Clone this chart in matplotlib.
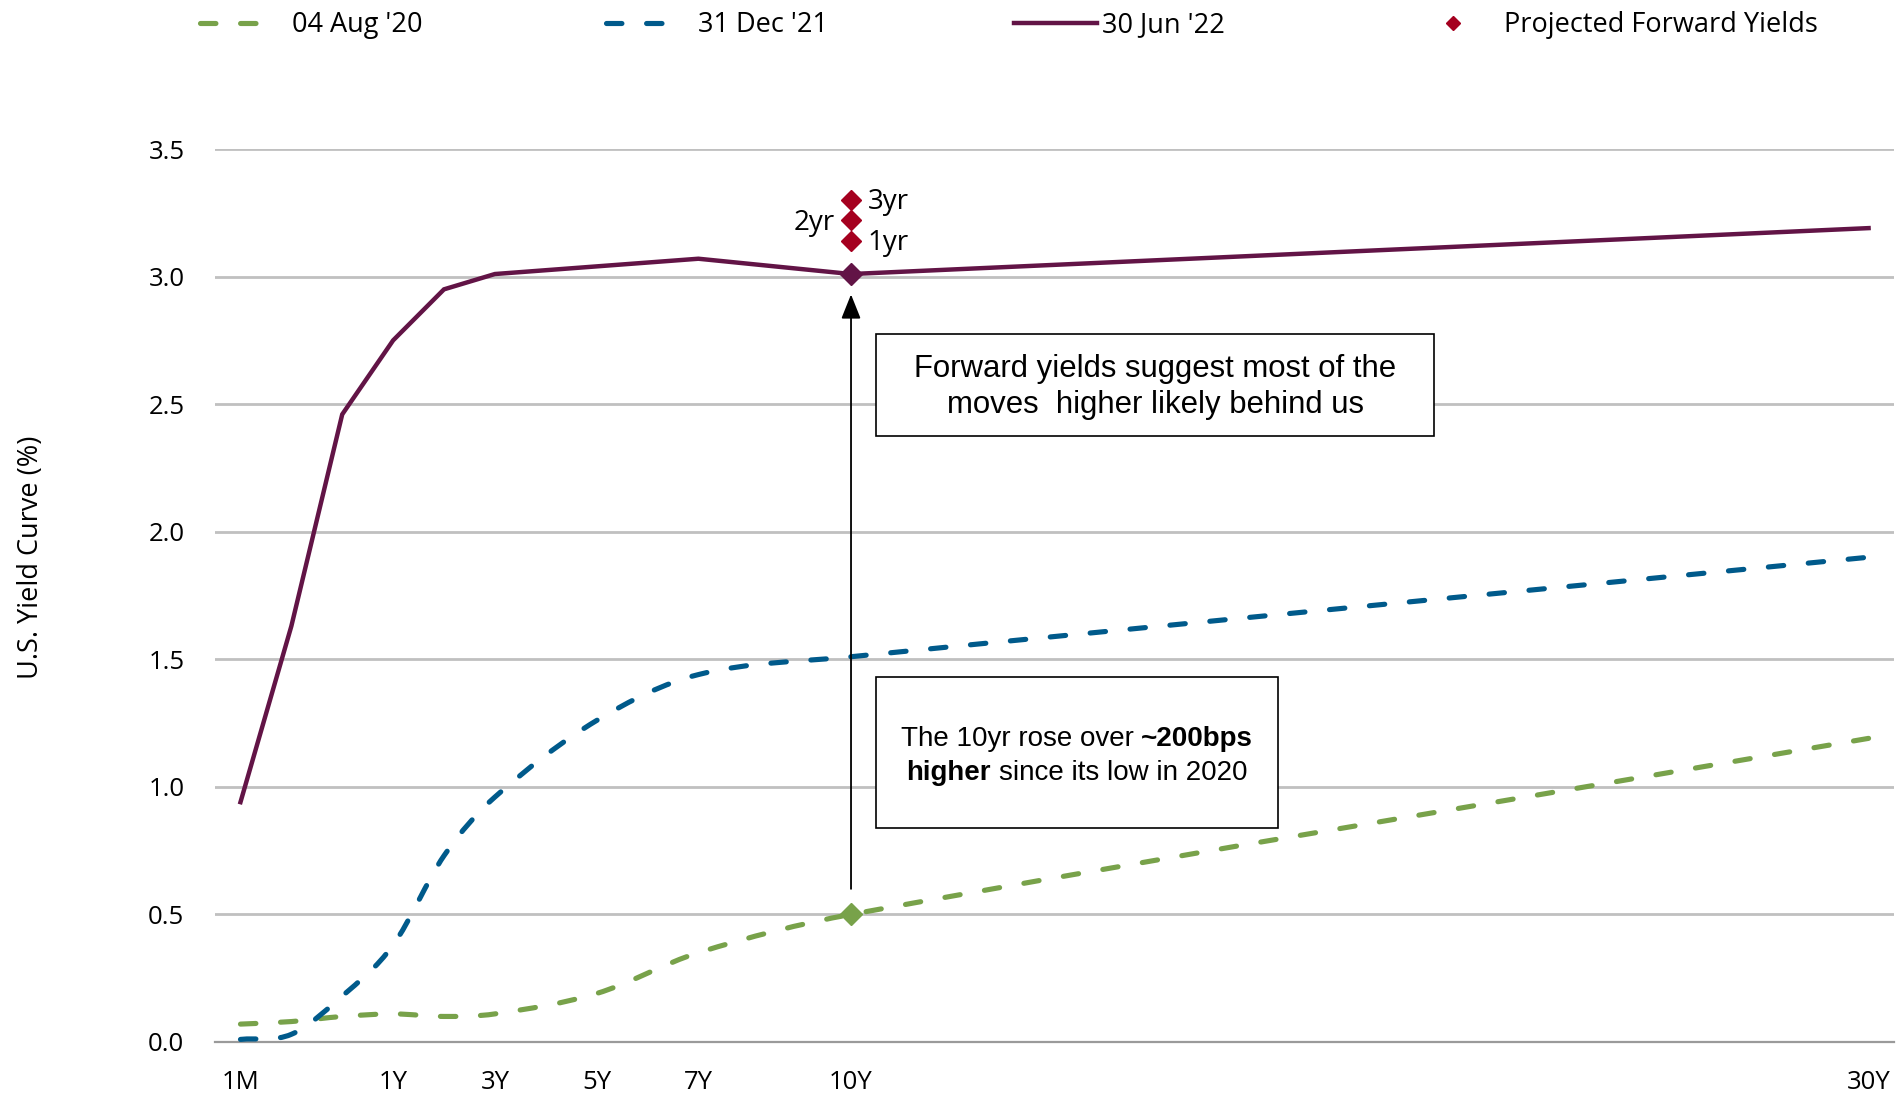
import numpy as np
import matplotlib
matplotlib.use("Agg")
import matplotlib.pyplot as plt
import matplotlib.transforms as mtransforms
from matplotlib.path import Path
from matplotlib.patches import PathPatch, Rectangle
from matplotlib.lines import Line2D

# ---- data -------------------------------------------------------------
tenors = ['1M', '3M', '6M', '1Y', '2Y', '3Y', '5Y', '7Y', '10Y', '30Y']
tenor_years = [1 / 12, 0.25, 0.5, 1, 2, 3, 5, 7, 10, 30]
labelled_tenors = ['1M', '1Y', '3Y', '5Y', '7Y', '10Y', '30Y']

yields_aug20 = [0.07, 0.08, 0.10, 0.11, 0.10, 0.11, 0.19, 0.35, 0.50, 1.19]
yields_dec21 = [0.01, 0.03, 0.18, 0.38, 0.73, 0.96, 1.26, 1.44, 1.51, 1.90]
yields_jun22 = [0.94, 1.63, 2.46, 2.75, 2.95, 3.01, 3.04, 3.07, 3.01, 3.19]

forward_labels = ['1yr', '2yr', '3yr']
forward_10y = [3.14, 3.22, 3.30]

series_names = ["04 Aug '20", "31 Dec '21", "30 Jun '22", "Projected Forward Yields"]

# ---- style ------------------------------------------------------------
GREEN = '#78A24A'
BLUE = '#005A8B'
PURPLE = '#621446'
RED = '#A5001F'
GRID = '#C0C0C0'
UI_FONT = 'Open Sans'
BOX_FONT = 'Liberation Sans'
DASH = (0, (3.0, 4.8))
DASH_LW = 3.7

plt.rcParams['font.family'] = [UI_FONT, 'DejaVu Sans']


def tenor_axis(years):
    """Map tenor in years onto the chart's horizontal axis (sub-year tenors evenly spaced)."""
    return np.interp(years, [0, 1 / 12, 0.25, 0.5, 1, 30], [-0.5, 0, 1, 2, 3, 32])


def smooth_path(x, y):
    """Cubic Hermite curve through the points, as a Bezier path."""
    x = np.asarray(x, float)
    y = np.asarray(y, float)
    n = len(x)
    m = np.empty(n)
    m[0] = (y[1] - y[0]) / (x[1] - x[0])
    m[-1] = (y[-1] - y[-2]) / (x[-1] - x[-2])
    for i in range(1, n - 1):
        m[i] = (y[i + 1] - y[i - 1]) / (x[i + 1] - x[i - 1])
    verts = [(x[0], y[0])]
    codes = [Path.MOVETO]
    for i in range(n - 1):
        h = x[i + 1] - x[i]
        verts += [(x[i] + h / 3, y[i] + m[i] * h / 3),
                  (x[i + 1] - h / 3, y[i + 1] - m[i + 1] * h / 3),
                  (x[i + 1], y[i + 1])]
        codes += [Path.CURVE4] * 3
    return Path(verts, codes)


fig = plt.figure(figsize=(18.98, 10.99), dpi=100)
ax = fig.add_axes([0.1133, 0.0519, 0.8846, 0.8125])

xpos = tenor_axis(tenor_years)
x10 = tenor_axis(10)

# gridlines and axes
ax.set_ylim(0, 3.5)
ax.set_xlim(-0.5, 32.5)
ax.set_yticks(np.arange(0, 3.51, 0.5))
ax.yaxis.set_major_formatter(plt.FormatStrFormatter('%.1f'))
ax.grid(axis='y', color=GRID, lw=2.0, zorder=0)
ax.set_axisbelow(True)
for s in ['top', 'right', 'left']:
    ax.spines[s].set_visible(False)
ax.spines['bottom'].set_color('#9A9A9A')
ax.spines['bottom'].set_linewidth(1.6)
ax.spines['bottom'].set_zorder(1)

tick_pos = [tenor_axis(tenor_years[tenors.index(t)]) for t in labelled_tenors]
ax.set_xticks(tick_pos)
ax.set_xticklabels(labelled_tenors)
ax.tick_params(axis='both', length=0, labelsize=18.5, colors='black')
ax.tick_params(axis='y', pad=22)
ax.tick_params(axis='x', pad=20)

ax.set_ylabel('U.S. Yield Curve (%)', fontsize=19.5)
ax.yaxis.set_label_coords(-0.101, 0.543)

# smoothed dashed curves
for vals, col in [(yields_aug20, GREEN), (yields_dec21, BLUE)]:
    patch = PathPatch(smooth_path(xpos, vals), fill=False, edgecolor=col, lw=DASH_LW,
                      linestyle=DASH, capstyle='round', joinstyle='round', zorder=3)
    ax.add_patch(patch)

# solid latest curve
ax.plot(xpos, yields_jun22, color=PURPLE, lw=3.2, solid_joinstyle='miter', zorder=4)

# 10Y highlights
i10 = tenors.index('10Y')
ax.plot([x10], [yields_aug20[i10]], marker='D', ms=11, color=GREEN, ls='none', zorder=6)
ax.plot([x10], [yields_jun22[i10]], marker='D', ms=11.5, color=PURPLE, ls='none', zorder=6)
ax.plot([x10] * len(forward_10y), forward_10y, marker='D', ms=10.5, color=RED,
        ls='none', zorder=6)

fw_offsets = {'1yr': (12, 'left'), '2yr': (-12, 'right'), '3yr': (12, 'left')}
for lab, val in zip(forward_labels, forward_10y):
    dx, ha = fw_offsets[lab]
    ax.annotate(lab, xy=(x10, val), xytext=(dx, -1.5), textcoords='offset points',
                ha=ha, va='center', fontsize=20, zorder=7)

# arrow from the 2020 low to the current 10Y level
ax.annotate('', xy=(x10, 2.93), xytext=(x10, 0.60),
            arrowprops=dict(arrowstyle='-|>,head_length=0.75,head_width=0.3',
                            color='black', lw=1.3, shrinkA=0, shrinkB=0,
                            mutation_scale=20), zorder=5)

# callout boxes
box1 = (0.3937, 0.6786, 0.7260 - 0.3937, 0.7928 - 0.6786)
box2 = (0.3937, 0.2396, 0.6330 - 0.3937, 0.4091 - 0.2396)
for bx in (box1, box2):
    ax.add_patch(Rectangle(bx[:2], bx[2], bx[3], transform=ax.transAxes,
                           facecolor='white', edgecolor='black', lw=1.2, zorder=5))

cx1 = box1[0] + box1[2] / 2
cy1 = box1[1] + box1[3] / 2
ax.text(cx1, cy1 - 0.002, 'Forward yields suggest most of the\nmoves  higher likely behind us',
        transform=ax.transAxes, ha='center', va='center', family=BOX_FONT,
        fontsize=22.4, linespacing=1.25, zorder=6)

renderer = fig.canvas.get_renderer()


def rich_line(x, y, parts, size):
    """Centered single line made of (text, weight) chunks separated by spaces."""
    probe = ax.text(0, 0, 'a a', fontsize=size, family=BOX_FONT)
    probe2 = ax.text(0, 0, 'aa', fontsize=size, family=BOX_FONT)
    space = probe.get_window_extent(renderer).width - probe2.get_window_extent(renderer).width
    probe.remove()
    probe2.remove()
    items = []
    for s, w in parts:
        t = ax.text(x, y, s, transform=ax.transAxes, ha='left', va='baseline',
                    fontsize=size, family=BOX_FONT, weight=w, zorder=6)
        items.append((t, t.get_window_extent(renderer).width))
    total = sum(wd for _, wd in items) + space * (len(items) - 1)
    off = -total / 2
    for t, wd in items:
        t.set_transform(mtransforms.offset_copy(ax.transAxes, fig=fig, x=off, y=0,
                                                units='dots'))
        off += wd + space


cx2 = box2[0] + box2[2] / 2
cy2 = box2[1] + box2[3] / 2
rich_line(cx2, cy2 + 0.007, [('The 10yr rose over', 'normal'), ('~200bps', 'bold')], 20)
rich_line(cx2, cy2 - 0.031, [('higher', 'bold'), ('since its low in 2020', 'normal')], 20)

# legend across the top
FS_LEG = 19.5
leg_specs = [
    (Line2D([], [], color=GREEN, lw=DASH_LW, linestyle=DASH, dash_capstyle='round'),
     series_names[0], 0.1054, 2.25, 1.15),
    (Line2D([], [], color=BLUE, lw=DASH_LW, linestyle=DASH, dash_capstyle='round'),
     series_names[1], 0.3193, 2.4, 1.0),
    (Line2D([], [], color=PURPLE, lw=3.2), series_names[2], 0.5342, 3.05, 0.2),
    (Line2D([], [], color=RED, marker='D', ms=7, ls='none'), series_names[3],
     0.7584, 1.0, 1.38),
]
for handle, label, lx, hl, tp in leg_specs:
    fig.legend(handles=[handle], labels=[label], loc='center left',
               bbox_to_anchor=(lx, 0.977), frameon=False, fontsize=FS_LEG,
               handlelength=hl, handletextpad=tp, borderpad=0, borderaxespad=0)

fig.savefig('out.png', dpi=100, facecolor='white')
